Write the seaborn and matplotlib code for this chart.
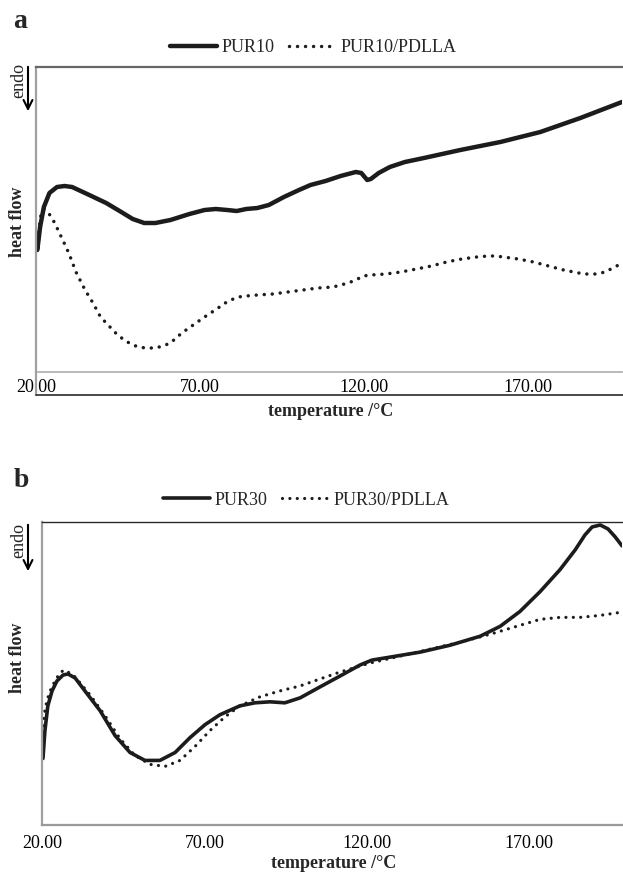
import matplotlib
matplotlib.use('Agg')
import matplotlib.pyplot as plt
from matplotlib.lines import Line2D
import pandas as pd
import seaborn as sns

# ---------------- data ----------------
tick_values = [20, 70, 120, 170]
tick_labels = ["20.00", "70.00", "120.00", "170.00"]

pur10_T = [20.4, 21.25, 22.4, 24.1, 26.4, 28.7, 31.0, 35.6, 41.4, 46.0, 49.5, 53.0,
           56.4, 61.0, 66.8, 71.4, 74.8, 78.3, 81.2, 84.1, 87.5, 91.0, 95.6, 100.2,
           103.7, 108.3, 112.9, 117.5, 119.2, 121.0, 122.1, 124.5, 127.9, 132.5,
           138.3, 149.4, 161.6, 173.8, 186.0, 198.7]
pur10_hf = [122, 145, 165, 179, 185, 186, 185, 178, 169, 160, 153, 149,
            149, 152, 158, 162, 163, 162, 161, 163, 164, 167, 175, 182,
            187, 191, 196, 200, 199, 192, 193, 199, 205, 210,
            214, 222, 230, 240, 254, 270]

pur10p_T = [20.66, 20.89, 21.58, 22.39, 23.54, 24.7, 25.85, 27.0, 28.15, 29.31, 30.46,
            32.19, 34.5, 35.88, 37.38, 39.69, 41.41, 43.14, 44.88, 46.95, 48.91, 51.2,
            53.5, 56.4, 58.7, 60.98, 64.47, 67.93, 71.39, 73.7, 75.97, 77.7, 79.4, 81.7,
            84.1, 87.5, 92.2, 96.8, 101.4, 106.0, 110.6, 115.2, 117.5, 119.8, 122.1,
            126.7, 131.3, 136.0, 140.6, 145.2, 149.8, 154.4, 157.8, 160.1, 162.5, 167.1,
            171.7, 176.3, 180.9, 185.5, 187.8, 190.7, 193.6, 197.0, 198.7]
pur10p_hf = [124, 142, 159, 163, 160, 155, 148, 140, 132, 124, 115,
             100, 85, 77, 69, 55, 49, 43, 37, 32, 28, 25,
             24, 24, 26, 29, 39, 47, 55, 60, 65, 69, 72, 75,
             76, 77, 78, 80, 82, 84, 85, 89, 92, 96, 97,
             98, 100, 103, 106, 110, 113, 115, 116, 116, 115, 113,
             110, 106, 102, 99, 98, 98, 100, 106, 108]

pur30_T = [20.3, 20.9, 21.8, 23.1, 24.6, 26.5, 28.0, 30.2, 33.2, 37.9, 42.5, 47.1,
           51.7, 56.3, 61.0, 65.6, 70.2, 74.8, 81.0, 85.6, 90.2, 94.8, 99.5, 105.6,
           111.8, 117.9, 121.6, 127.2, 136.4, 145.7, 154.9, 161.1, 167.2, 173.4,
           179.5, 184.2, 187.2, 189.4, 191.9, 194.3, 196.5, 198.6]
pur30_hf = [67, 95, 120, 135, 145, 151, 152, 148, 135, 115, 90, 73,
            65, 65, 73, 88, 101, 111, 120, 123, 124, 123, 128, 139,
            150, 161, 166, 169, 174, 181, 190, 200, 215, 235,
            257, 277, 292, 300, 302, 298, 290, 281]

pur30p_T = [20.15, 20.6, 21.5, 22.5, 24.0, 25.5, 26.8, 28.0, 30.2, 34.8, 39.4, 44.0,
            48.6, 53.3, 57.9, 62.5, 67.1, 71.7, 76.4, 81.0, 87.1, 93.3, 99.5, 105.6,
            111.8, 121.0, 130.3, 139.5, 148.7, 158.0, 167.2, 173.4, 179.5, 185.7,
            191.9, 198.0]
pur30p_hf = [85, 110, 125, 135, 145, 153, 156, 154, 149, 131, 110, 87,
             70, 61, 59, 65, 79, 95, 109, 120, 129, 135, 140, 147,
             154, 163, 170, 177, 184, 192, 201, 207, 209, 209,
             211, 214]

# ---------------- style ----------------
sns.set_style('white')
plt.rcParams['font.family'] = ['Liberation Serif', 'DejaVu Serif']

W, H = 623, 874
fig = plt.figure(figsize=(W / 100, H / 100), dpi=100)


def fx(x):
    return x / W


def fy(y):
    return 1 - y / H


INK = '#1c1c1c'
DOT = (0, (0.01, 2.3))

axA = fig.add_axes([fx(36), fy(372), (622 - 36) / W, (372 - 67) / H])
axB = fig.add_axes([fx(42), fy(825), (622 - 42) / W, (825 - 522) / H])

dfA1 = pd.DataFrame({'T': pur10_T, 'hf': pur10_hf})
dfA2 = pd.DataFrame({'T': pur10p_T, 'hf': pur10p_hf})
dfB1 = pd.DataFrame({'T': pur30_T, 'hf': pur30_hf})
dfB2 = pd.DataFrame({'T': pur30p_T, 'hf': pur30p_hf})

sns.lineplot(data=dfA1, x='T', y='hf', ax=axA, color=INK, lw=3.2, label='PUR10',
             solid_capstyle='round')
sns.lineplot(data=dfA2, x='T', y='hf', ax=axA, color=INK, lw=2.5, linestyle=DOT,
             dash_capstyle='round', label='PUR10/PDLLA')
sns.lineplot(data=dfB1, x='T', y='hf', ax=axB, color=INK, lw=2.6, label='PUR30',
             solid_capstyle='round')
sns.lineplot(data=dfB2, x='T', y='hf', ax=axB, color=INK, lw=2.3, linestyle=DOT,
             dash_capstyle='round', label='PUR30/PDLLA')

for ax, right in ((axA, 198.7), (axB, 198.6)):
    ax.set_xlim(20, right)
    ax.set_ylim(0, 305)
    ax.set_xticks(tick_values)
    ax.set_xticklabels(tick_labels)
    ax.set_yticks([])
    ax.spines['right'].set_visible(False)
    for lab in ax.get_xticklabels():
        lab.set_fontsize(13)
        lab.set_color('black')

# panel a spines / ticks
axA.spines['left'].set_color('#a0a0a0'); axA.spines['left'].set_linewidth(1.6)
axA.spines['top'].set_color('#666666'); axA.spines['top'].set_linewidth(1.6)
axA.spines['bottom'].set_color('#b4b4b4'); axA.spines['bottom'].set_linewidth(1.3)
axA.tick_params(axis='x', direction='in', length=3, width=1, color='#b4b4b4', pad=5)

# panel b spines / ticks
axB.spines['left'].set_color('#a0a0a0'); axB.spines['left'].set_linewidth(1.6)
axB.spines['top'].set_color('#2a2a2a'); axB.spines['top'].set_linewidth(1.0)
axB.spines['bottom'].set_color('#9a9a9a'); axB.spines['bottom'].set_linewidth(1.6)
axB.tick_params(axis='x', direction='out', length=4, width=1, color='#9a9a9a', pad=3)

# extra framing lines of panel a (below the tick labels)
fig.add_artist(Line2D([fx(36), fx(36)], [fy(372), fy(395)], color='#a0a0a0', lw=1.6))
fig.add_artist(Line2D([fx(36), 1.0], [fy(395), fy(395)], color='#2a2a2a', lw=1.2))

# axis labels
for ax, xl, yl in ((axA, (331, 403), (26, 222)), (axB, (334, 855), (26, 658))):
    ax.set_xlabel('temperature /°C', fontsize=13, fontweight='bold')
    ax.xaxis.set_label_coords(fx(xl[0]), fy(xl[1]), transform=fig.transFigure)
    ax.set_ylabel('heat flow', fontsize=13, fontweight='bold')
    ax.yaxis.set_label_coords(fx(yl[0]), fy(yl[1]), transform=fig.transFigure)

# legends
for ax, cx, cy in ((axA, 313, 48), (axB, 306, 500)):
    ax.legend(loc='center', bbox_to_anchor=(fx(cx), fy(cy)), bbox_transform=fig.transFigure,
              ncol=2, frameon=False, fontsize=13, handlelength=2.6, handletextpad=0.25,
              columnspacing=0.8, borderpad=0, borderaxespad=0)

# endo arrows
for y0, y1, yt in ((64, 114, 81), (522, 574, 541)):
    fig.add_artist(matplotlib.patches.FancyArrowPatch(
        (fx(28), fy(y0)), (fx(28), fy(y1)), transform=fig.transFigure,
        arrowstyle='->', mutation_scale=16, lw=1.5, color='black'))
    fig.text(fx(19), fy(yt), 'endo', rotation=90, ha='center', va='center', fontsize=13)

# panel letters
fig.text(fx(20), fy(22), 'a', fontsize=20, fontweight='bold', ha='center', va='center')
fig.text(fx(21), fy(481), 'b', fontsize=20, fontweight='bold', ha='center', va='center')

fig.savefig('out.png', dpi=100)
